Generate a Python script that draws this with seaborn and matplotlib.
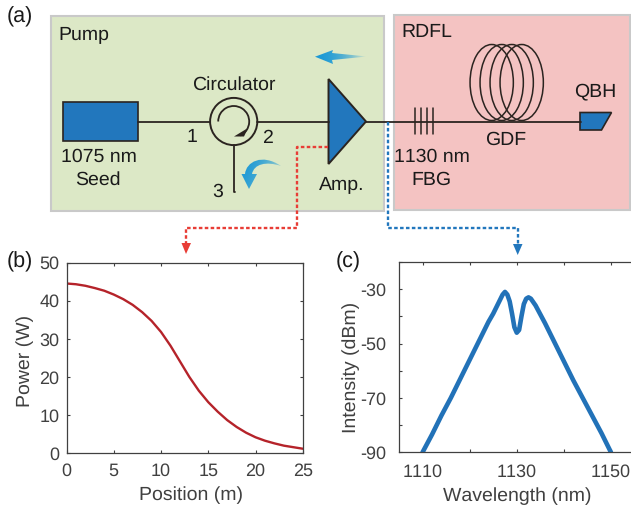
import numpy as np
import pandas as pd
import matplotlib
matplotlib.use("Agg")
import matplotlib.pyplot as plt
import seaborn as sns
from matplotlib.patches import Rectangle, Polygon, Circle, Ellipse, PathPatch
from matplotlib.path import Path
from matplotlib.transforms import Affine2D

position = [0, 1, 2, 3, 4, 5, 6, 7, 8, 9, 10, 11, 12, 13, 14, 15, 16, 17, 18, 19, 20, 21, 22, 23, 24, 25]
power = [44.5, 44.3, 43.9, 43.3, 42.6, 41.6, 40.4, 38.9, 37.0, 34.7, 31.8, 28.2, 24.1, 20.0, 16.4, 13.4,
         10.9, 8.7, 6.9, 5.4, 4.2, 3.3, 2.6, 2.0, 1.6, 1.2]

wavelength = [1110, 1112, 1114, 1116, 1118, 1120, 1122, 1124, 1125, 1126, 1127, 1127.5, 1128, 1128.5, 1129,
              1129.5, 1130, 1130.5, 1131, 1131.5, 1132, 1132.5, 1133, 1134, 1136, 1138, 1140, 1142, 1144,
              1146, 1148, 1150]
intensity = [-90, -83.5, -76.5, -70, -63, -56, -49, -42, -39, -35.5, -32, -31, -32, -34.5, -39,
             -44, -46, -45, -40, -35.5, -33.5, -33, -33.5, -36, -42.5, -49.5, -56.5, -63.5, -70,
             -76.5, -83, -90]

b_xticks = [0, 5, 10, 15, 20, 25]
b_yticks = [0, 10, 20, 30, 40, 50]
c_xticks = [1110, 1120, 1130, 1140, 1150]
c_xlabels = ['1110', '', '1130', '', '1150']
c_yticks = [-90, -80, -70, -60, -50, -40, -30, -20]
c_ylabels = ['-90', '', '-70', '', '-50', '', '-30', '']

sns.set_style("ticks")
plt.rcParams['font.family'] = ['Liberation Sans', 'DejaVu Sans']
plt.rcParams['text.kerning_factor'] = 6
plt.rcParams['text.hinting'] = 'no_hinting'

W, H = 631, 507
DARK = '#2b2420'
GREY = '#404040'
BLUE = '#2277bd'
RED = '#e83d36'

fig = plt.figure(figsize=(W / 100, H / 100), dpi=100)


def px_axes(left, top, right, bottom):
    return fig.add_axes([left / W, 1 - bottom / H, (right - left) / W, (bottom - top) / H])


# diagram layer in pixel coordinates
d = fig.add_axes([0, 0, 1, 1])
d.set_xlim(0, W)
d.set_ylim(H, 0)
d.axis('off')

d.add_patch(Rectangle((51, 16), 333, 195, fc='#dce8c6', ec='#c9c9c9', lw=1.5))
d.add_patch(Rectangle((393.5, 15), 236, 195, fc='#f4c3c2', ec='#c9c9c9', lw=1.5))

fy = 121.5
d.plot([138, 210], [fy, fy], color=DARK, lw=1.3)
d.plot([257, 329], [fy, fy], color=DARK, lw=1.3)
d.plot([366, 581], [fy, fy], color=DARK, lw=1.3)
d.plot([233.7, 233.7, 235], [145, 192, 192], color=DARK, lw=1.3)

d.add_patch(Rectangle((63, 102), 75, 39, fc=BLUE, ec=DARK, lw=1.2))
d.add_patch(Circle((233.7, fy), 23.6, fc='none', ec=DARK, lw=1.4))
arc = Path.arc(180, 425).transformed(Affine2D().scale(15.5).translate(233.7, fy))
d.add_patch(PathPatch(arc, fc='none', ec=DARK, lw=1.3))
d.add_patch(Polygon([(234, 136.5), (248, 128), (244, 136.5)], fc=DARK, ec='none'))

d.add_patch(Polygon([(328.5, 79), (366, fy), (328.5, 164)], fc=BLUE, ec=DARK, lw=1.4, joinstyle='miter'))

for x in [415, 421, 427, 432.7]:
    d.plot([x, x], [108, 134], color=DARK, lw=1.1)
for x in [491.7, 501.7, 511.7, 521.7]:
    d.add_patch(Ellipse((x, 82.5), 43.3, 76, fc='none', ec=DARK, lw=1.1))
d.add_patch(Polygon([(580, 112.5), (611.5, 112.5), (601.5, 130), (580, 130)], fc=BLUE, ec=DARK, lw=1.2))


def fade_patch(path, extent, angle_x, angle_y):
    # light blue shape that fades out towards the tail
    gx, gy = np.meshgrid(np.linspace(0, 1, 80), np.linspace(0, 1, 80))
    a = np.clip(angle_x * gx + angle_y * gy, 0, 1)
    img = np.zeros((80, 80, 4))
    img[..., 0], img[..., 1], img[..., 2] = 0.11, 0.60, 0.84
    img[..., 3] = 1 - a ** 2
    im = d.imshow(img, extent=extent, aspect='auto', zorder=3, interpolation='bilinear')
    im.set_clip_path(PathPatch(path, transform=d.transData))


fade_patch(Path([(315, 56.7), (333, 50), (332, 53), (367, 56.5), (332, 60), (333, 64), (315, 56.7)]),
           (315, 367, 64, 50), 1.0, 0.0)
curl = Path([(249, 189), (241.5, 174), (245, 174), (246, 162), (262, 153), (281, 166),
             (266, 161), (254, 164), (252, 174), (257, 174), (249, 189)],
            [Path.MOVETO, Path.LINETO, Path.LINETO, Path.CURVE4, Path.CURVE4, Path.CURVE4,
             Path.CURVE4, Path.CURVE4, Path.CURVE4, Path.LINETO, Path.CLOSEPOLY])
fade_patch(curl, (241, 281, 190, 156), 0.75, 0.25)
d.set_xlim(0, W)
d.set_ylim(H, 0)

# dotted links between schematic and panels
link = dict(lw=1.7, ls=(0, (1.5, 1.0)))
d.plot([328, 296.7, 296.7, 185.7, 185.7], [146.7, 146.7, 227.7, 227.7, 244], color=RED, **link)
d.add_patch(Polygon([(181.5, 243), (191, 243), (186, 254)], fc=RED, ec='none'))
d.plot([388.3, 388.3, 517.7, 517.7], [122, 227.7, 227.7, 245], color=BLUE, **link)
d.add_patch(Polygon([(513, 244), (522.5, 244), (517.7, 255)], fc=BLUE, ec='none'))

labels = [
    (20, 17, '(a)', 15.5), (20, 262, '(b)', 15.5), (348, 262, '(c)', 15.5),
    (84, 35, 'Pump', 14), (427, 32, 'RDFL', 14), (233.5, 85, 'Circulator', 14),
    (99, 157, '1075 nm', 14), (98, 180, 'Seed', 14), (342, 185, 'Amp.', 14),
    (192, 137, '1', 14), (267, 138, '2', 14), (218, 192, '3', 14),
    (432, 157, '1130 nm', 14), (431, 180, 'FBG', 14), (506, 140, 'GDF', 14),
    (595, 91, 'QBH', 14),
]
for x, y, s, size in labels:
    d.text(x, y, s, ha='center', va='center', fontsize=size, color='#1a1a1a')

# panel b
ax_b = px_axes(66.5, 262.5, 302.8, 453.3)
sns.lineplot(x=position, y=power, ax=ax_b, color='#b5232a', lw=1.7, estimator=None)
ax_b.set_xlim(0, 25)
ax_b.set_ylim(0, 50)
ax_b.set_xticks(b_xticks)
ax_b.set_yticks(b_yticks)
ax_b.tick_params(direction='in', top=True, right=True, length=2.5, width=0.8, color=GREY,
                 labelcolor=GREY, labelsize=13)
ax_b.tick_params(axis='x', pad=7)
ax_b.tick_params(axis='y', pad=5)
ax_b.set_xlabel('Position (m)', fontsize=14, color=GREY, labelpad=5, x=0.525)
ax_b.set_ylabel('Power (W)', fontsize=14, color=GREY, labelpad=4, y=0.486)

# panel c runs past the right edge of the figure
ax_c = px_axes(399, 262, 634.5, 452.3)
sns.lineplot(x=wavelength, y=intensity, ax=ax_c, color='#2272b8', lw=3.3, estimator=None,
             solid_joinstyle='round')
ax_c.set_xlim(1105, 1155)
ax_c.set_ylim(-90, -20)
ax_c.set_xticks(c_xticks)
ax_c.set_xticklabels(c_xlabels)
ax_c.set_yticks(c_yticks)
ax_c.set_yticklabels(c_ylabels)
ax_c.tick_params(direction='in', top=True, length=2.5, width=0.8, color=GREY,
                 labelcolor=GREY, labelsize=13)
ax_c.tick_params(axis='x', pad=8)
ax_c.tick_params(axis='y', pad=9)
ax_c.set_xlabel('Wavelength (nm)', fontsize=14, color=GREY, labelpad=5)
ax_c.set_ylabel('Intensity (dBm)', fontsize=14, color=GREY, labelpad=0, y=0.448)

for ax in [ax_b, ax_c]:
    for side in ax.spines.values():
        side.set_color(GREY)
        side.set_linewidth(0.9)
    ax.patch.set_alpha(0)

fig.savefig('out.png', dpi=100)
